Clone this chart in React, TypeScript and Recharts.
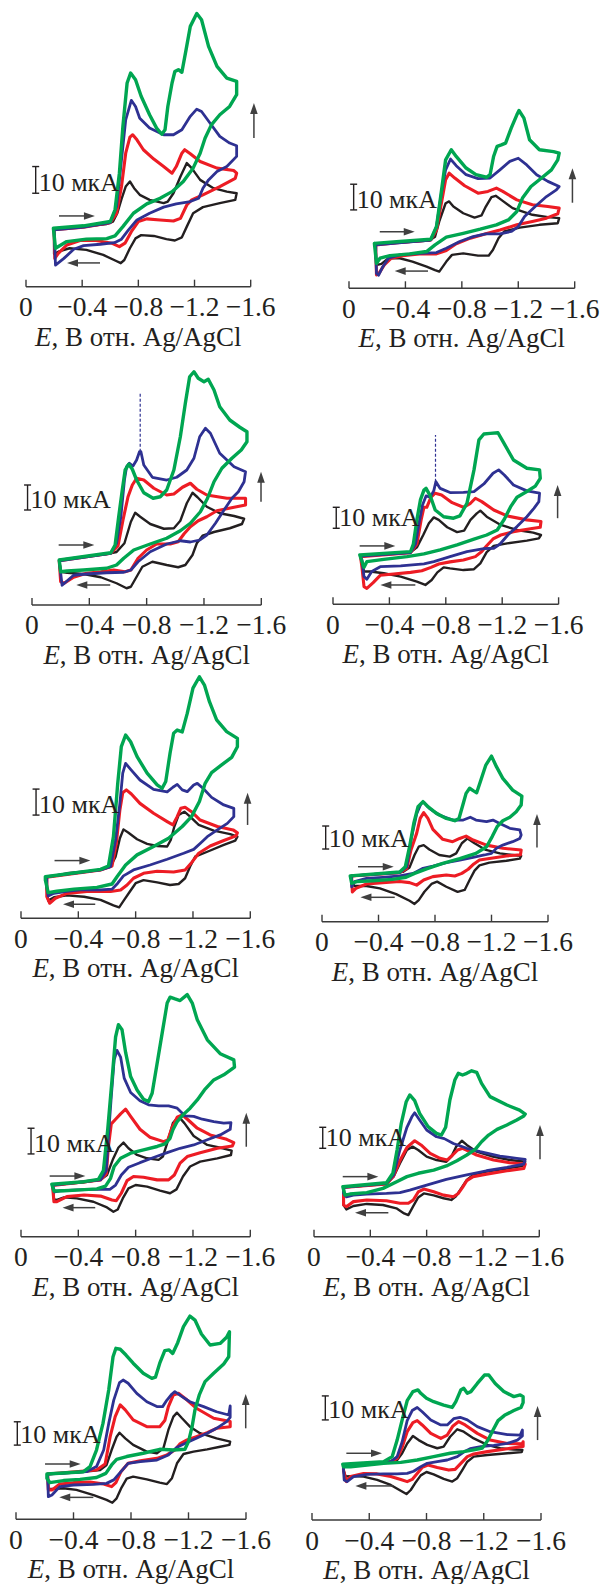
// Cyclic voltammograms, 10 panels (5 rows x 2 columns)
import React from 'react';
import { LineChart, Line, XAxis, YAxis, ReferenceLine } from 'recharts';

type Pt = [number, number]; // [E, V ; I, мкА]

// ---------- panel 1 ----------
const p1Black: Pt[] = [[-0.2,21.5],[-0.41,22.5],[-0.575,23.5],[-0.62,24.4],[-0.65,27.5],[-0.68,32.8],[-0.71,37.5],[-0.74,39.4],[-0.77,36.9],[-0.81,34.4],[-0.88,32.5],[-0.98,31.3],[-1.01,31.9],[-1.05,35],[-1.1,41.3],[-1.145,46.3],[-1.18,44.4],[-1.24,40],[-1.335,36.9],[-1.43,35.6],[-1.5,35],
  [-1.49,32.5],[-1.38,31.3],[-1.26,29.8],[-1.19,27.5],[-1.145,22.5],[-1.11,18.5],[-1.06,17.3],[-1.0,17.8],[-0.91,19],[-0.82,19.3],[-0.78,18.1],[-0.74,14.4],[-0.7,10],[-0.675,8.8],[-0.635,9.8],[-0.55,11.9],[-0.43,13.8],[-0.31,14.4],[-0.23,13.1],[-0.2,12.3]];
const p1Red: Pt[] = [[-0.2,21.3],[-0.41,22.3],[-0.6,24],[-0.645,27.5],[-0.68,37.5],[-0.71,50],[-0.74,56],[-0.76,56.9],[-0.79,55],[-0.836,51.3],[-0.91,47.8],[-0.98,45],[-1.04,42.5],[-1.07,45],[-1.11,50],[-1.13,51.3],[-1.17,49.8],[-1.24,46.9],[-1.36,44.4],[-1.48,43.5],[-1.5,42.5],
  [-1.49,40.6],[-1.38,37.5],[-1.26,34.4],[-1.18,32.5],[-1.145,30.6],[-1.1,25.6],[-1.05,24.6],[-0.955,25],[-0.86,25.4],[-0.8,24.4],[-0.75,20.6],[-0.705,16.3],[-0.665,15],[-0.61,16.3],[-0.5,17.3],[-0.385,17.3],[-0.29,15.6],[-0.23,12.5],[-0.205,10.6]];
const p1Blue: Pt[] = [[-0.2,21.3],[-0.41,22.3],[-0.6,24],[-0.645,30],[-0.68,47.5],[-0.71,62.5],[-0.75,69.8],[-0.78,67.5],[-0.81,63.1],[-0.88,59.4],[-0.98,56.9],[-1.05,56.9],[-1.11,58.8],[-1.17,63.8],[-1.216,66.5],[-1.25,65.6],[-1.31,61.3],[-1.38,56.3],[-1.45,53.8],[-1.5,52.8],
  [-1.5,48.8],[-1.43,45],[-1.36,43.1],[-1.3,40],[-1.26,36.9],[-1.23,33.1],[-1.17,31.9],[-1.07,31],[-0.98,29.8],[-0.88,27.5],[-0.79,25],[-0.73,21.3],[-0.68,17.8],[-0.63,16.5],[-0.53,15.9],[-0.41,15.4],[-0.34,14],[-0.27,10.6],[-0.21,8.1]];
const p1Green: Pt[] = [[-0.195,21.9],[-0.41,22.8],[-0.6,24.4],[-0.634,28.8],[-0.665,42.5],[-0.69,60],[-0.72,76.3],[-0.745,80],[-0.78,77.5],[-0.82,71.3],[-0.88,64.4],[-0.93,59.4],[-0.967,57.1],[-0.99,58.8],[-1.01,67.5],[-1.04,76.3],[-1.06,80.6],[-1.085,81.3],[-1.11,80.3],[-1.14,88.8],[-1.17,97.5],[-1.216,102.3],[-1.25,100],[-1.3,90],[-1.36,82.5],[-1.43,78.1],[-1.5,76.9],
  [-1.5,71.9],[-1.45,67.5],[-1.38,64.4],[-1.32,60.6],[-1.275,55.6],[-1.24,50],[-1.19,44.4],[-1.12,39.4],[-1.04,35.6],[-0.955,33.1],[-0.86,31],[-0.765,27.5],[-0.69,22.5],[-0.634,19],[-0.575,18],[-0.43,17.8],[-0.29,16.9],[-0.21,14.4]];

// ---------- panel 2 ----------
const p2Black: Pt[] = [[-0.19,17.1],[-0.36,17.8],[-0.57,18.6],[-0.61,20.1],[-0.64,26],[-0.685,33.1],[-0.71,33.8],[-0.74,31.8],[-0.81,29.2],[-0.89,27.5],[-0.94,28.4],[-0.97,31.8],[-1.01,35.5],[-1.04,36],[-1.08,34.4],[-1.16,31.2],[-1.3,28.6],[-1.41,27.7],[-1.49,27.3],
  [-1.48,25.3],[-1.35,24.7],[-1.21,23.6],[-1.1,22.1],[-1.06,19.5],[-1.02,14.9],[-0.99,12.7],[-0.915,12.7],[-0.81,13.6],[-0.73,13],[-0.69,10.4],[-0.64,6.5],[-0.61,7.1],[-0.55,8.4],[-0.45,10.4],[-0.36,11.7],[-0.28,11.7],[-0.23,9.5],[-0.2,9.1],[-0.19,11.7]];
const p2Red: Pt[] = [[-0.19,16.9],[-0.36,17.8],[-0.58,18.8],[-0.62,22.7],[-0.655,33.1],[-0.685,42.2],[-0.71,44.8],[-0.75,42.9],[-0.82,39.9],[-0.915,37],[-0.985,37.7],[-1.045,39],[-1.09,37.7],[-1.19,34.4],[-1.3,32.5],[-1.41,31.8],[-1.49,31.2],
  [-1.48,29],[-1.4,27.3],[-1.3,26],[-1.19,24.7],[-1.07,22.7],[-0.97,21.2],[-0.86,19.5],[-0.76,17.3],[-0.69,14.7],[-0.62,13.4],[-0.5,13.4],[-0.38,12.7],[-0.3,11.7],[-0.25,9.1],[-0.21,5.6],[-0.195,5.2],[-0.19,14]];
const p2Blue: Pt[] = [[-0.19,16.9],[-0.58,18.8],[-0.62,24],[-0.655,37],[-0.685,46.1],[-0.72,50.3],[-0.76,47.7],[-0.83,44.2],[-0.915,42.7],[-1.0,42.9],[-1.07,46.1],[-1.14,49.4],[-1.2,50.6],[-1.26,48],[-1.33,44.2],[-1.41,41.6],[-1.49,39.6],
  [-1.47,38.3],[-1.4,35.7],[-1.32,31.8],[-1.245,27.9],[-1.2,24],[-1.15,22.1],[-1.07,21.2],[-0.97,21.2],[-0.88,20.1],[-0.785,18.2],[-0.69,15.6],[-0.62,13.9],[-0.5,13.6],[-0.36,13],[-0.28,11.7],[-0.24,8.4],[-0.21,5.1],[-0.195,5.8],[-0.19,14]];
const p2Green: Pt[] = [[-0.18,17.5],[-0.36,18.2],[-0.58,19.1],[-0.62,24],[-0.65,35.7],[-0.685,50],[-0.725,53.9],[-0.76,51.3],[-0.83,46.8],[-0.9,44.2],[-0.975,43.2],[-1.0,44.2],[-1.025,51.3],[-1.05,55.2],[-1.08,55.8],[-1.11,56.5],[-1.15,62.3],[-1.19,67.5],[-1.205,69.2],[-1.24,66.2],[-1.28,57.8],[-1.35,53.9],[-1.45,53.2],[-1.49,52.6],
  [-1.48,50],[-1.435,46.1],[-1.365,42.9],[-1.29,39.6],[-1.23,35.1],[-1.19,29.9],[-1.13,26.6],[-1.045,24.7],[-0.93,23],[-0.81,21.4],[-0.69,19.9],[-0.61,16.9],[-0.55,14.3],[-0.43,13.4],[-0.29,12.7],[-0.22,11.7],[-0.195,9.7]];

// ---------- panel 3 ----------
const p3Black: Pt[] = [[-0.19,18],[-0.36,19.3],[-0.52,20.4],[-0.59,21.2],[-0.645,24.7],[-0.69,33.3],[-0.72,36.9],[-0.755,35.3],[-0.825,32.4],[-0.92,30.5],[-0.99,30.7],[-1.035,33.7],[-1.08,40.7],[-1.12,44.9],[-1.155,43.1],[-1.22,39.3],[-1.31,36.7],[-1.41,35.6],[-1.48,34.5],
  [-1.465,32.4],[-1.38,30.7],[-1.27,29.2],[-1.19,27.7],[-1.15,24.7],[-1.12,20],[-1.07,16],[-1.02,15.1],[-0.94,16],[-0.84,17.3],[-0.77,15.3],[-0.73,11.3],[-0.69,7.3],[-0.66,6.7],[-0.59,8.7],[-0.48,11.1],[-0.36,12.4],[-0.245,12.9],[-0.2,13.3]];
const p3Red: Pt[] = [[-0.19,17.7],[-0.55,20.7],[-0.6,23.6],[-0.635,34],[-0.67,43.3],[-0.7,48],[-0.73,50.7],[-0.78,50],[-0.85,46.7],[-0.94,44],[-0.99,44.4],[-1.05,47.1],[-1.105,48.7],[-1.15,46.3],[-1.22,44],[-1.36,42.7],[-1.49,42.7],
  [-1.49,40],[-1.41,39.1],[-1.29,37.7],[-1.22,35.3],[-1.16,33.7],[-1.105,31.3],[-1.06,28.4],[-1.02,25.3],[-0.965,24.4],[-0.87,24.4],[-0.8,22],[-0.74,18.7],[-0.69,14],[-0.65,13.3],[-0.57,14],[-0.48,13.3],[-0.38,12.7],[-0.29,11.1],[-0.225,8.7],[-0.2,9.3]];
const p3Blue: Pt[] = [[-0.19,17.7],[-0.55,20.7],[-0.59,24.7],[-0.62,35.3],[-0.645,50],[-0.66,55.3],[-0.68,56.7],[-0.705,55.6],[-0.73,58],[-0.75,61.3],[-0.76,61.3],[-0.78,56],[-0.84,51.1],[-0.94,50],[-1.01,51.1],[-1.08,54],[-1.13,58.7],[-1.17,67.3],[-1.21,70.7],[-1.245,68.7],[-1.31,60.7],[-1.41,55.3],[-1.49,53.3],
  [-1.48,49.3],[-1.44,45.3],[-1.395,42.7],[-1.34,38],[-1.28,32.7],[-1.22,28],[-1.17,26],[-1.105,25.2],[-1.035,25.7],[-0.94,24.4],[-0.825,21.3],[-0.74,17.3],[-0.69,14],[-0.64,13.1],[-0.52,12.9],[-0.38,12.4],[-0.29,11.9],[-0.23,8.9],[-0.21,7.9]];
const p3BlueSpike: Pt[] = [[-0.755,61.3],[-0.755,85.3]];
const p3Green: Pt[] = [[-0.19,18],[-0.55,20.9],[-0.58,24],[-0.605,35.3],[-0.63,46],[-0.65,54],[-0.675,56.3],[-0.7,54.3],[-0.73,50],[-0.78,44.9],[-0.845,42.7],[-0.895,43.3],[-0.94,46],[-0.99,54],[-1.035,67.3],[-1.07,80.7],[-1.1,91.3],[-1.13,93.3],[-1.16,90.7],[-1.2,89.3],[-1.23,90.3],[-1.27,86],[-1.31,79.3],[-1.38,74],[-1.45,71.1],[-1.5,69.3],
  [-1.5,65.3],[-1.46,62],[-1.395,58.7],[-1.325,54.7],[-1.27,49.3],[-1.225,42.7],[-1.175,37.3],[-1.105,32.7],[-1.035,29.7],[-0.94,26.7],[-0.825,24.4],[-0.71,22],[-0.64,18.7],[-0.59,16],[-0.52,14.7],[-0.36,14],[-0.245,13.6],[-0.2,13.3]];

// ---------- panel 4 ----------
const p4Black: Pt[] = [[-0.195,23],[-0.36,24],[-0.55,24.8],[-0.595,27.1],[-0.64,33],[-0.68,38.6],[-0.715,41.4],[-0.75,40.2],[-0.81,36.7],[-0.88,34.4],[-0.93,35.1],[-0.975,40.2],[-1.02,43.3],[-1.045,44.6],[-1.09,41.7],[-1.19,37.8],[-1.305,35.4],[-1.42,34.1],[-1.475,33],
  [-1.46,31.4],[-1.375,30.3],[-1.235,29],[-1.14,27.8],[-1.09,24.8],[-1.045,19.5],[-1.0,16.7],[-0.925,16.3],[-0.83,17.1],[-0.785,17.6],[-0.74,15.2],[-0.7,11.6],[-0.655,9.2],[-0.595,10.8],[-0.48,13.2],[-0.36,14.8],[-0.265,15.6],[-0.22,15.6],[-0.205,20]];
const p4Red: Pt[] = [[-0.195,22.7],[-0.55,24.6],[-0.595,28.7],[-0.625,40.2],[-0.645,46.2],[-0.665,46.2],[-0.695,51],[-0.725,52.9],[-0.77,52.1],[-0.845,48.4],[-0.925,46.2],[-0.975,48.1],[-1.01,50.5],[-1.055,48.9],[-1.14,44.9],[-1.235,42.1],[-1.375,40.2],[-1.475,39.4],
  [-1.47,36.7],[-1.4,36],[-1.28,34.6],[-1.19,33],[-1.135,31.1],[-1.09,27.9],[-1.055,25.1],[-1.01,22.7],[-0.925,21.1],[-0.83,20.2],[-0.75,19.2],[-0.695,17.6],[-0.63,16],[-0.55,15.2],[-0.43,14.4],[-0.335,13.8],[-0.285,10.3],[-0.24,7.6],[-0.22,8.4],[-0.205,17.9]];
const p4Blue: Pt[] = [[-0.195,23],[-0.55,24.6],[-0.585,28.7],[-0.61,38.6],[-0.635,47.3],[-0.66,51.6],[-0.69,51],[-0.715,54.1],[-0.73,58.4],[-0.76,55.2],[-0.83,53.2],[-0.925,53.3],[-1.0,53.7],[-1.07,57.3],[-1.135,62.4],[-1.175,64],[-1.215,61.6],[-1.28,56.8],[-1.375,54],[-1.465,52.9],
  [-1.46,48.9],[-1.425,45.7],[-1.375,41.7],[-1.305,37],[-1.24,33],[-1.185,28.7],[-1.14,26.7],[-1.07,26.5],[-0.95,25.1],[-0.83,22.7],[-0.715,20.3],[-0.645,19.2],[-0.48,18.3],[-0.335,17.9],[-0.275,15.6],[-0.24,11.9],[-0.22,13.2],[-0.205,21.1]];
const p4BlueSpike: Pt[] = [[-0.727,58.4],[-0.727,80.6]];
const p4Green: Pt[] = [[-0.19,23.5],[-0.55,25.1],[-0.57,28.7],[-0.595,40.2],[-0.62,49.7],[-0.645,54.4],[-0.66,55.2],[-0.69,51.6],[-0.725,44.9],[-0.785,41.7],[-0.855,41],[-0.9,42.1],[-0.95,48.1],[-1.0,64],[-1.035,78.3],[-1.07,81.1],[-1.115,81.4],[-1.17,81.7],[-1.21,77],[-1.28,68.7],[-1.375,64.8],[-1.465,64],
  [-1.47,60],[-1.435,56.3],[-1.375,53.7],[-1.305,51],[-1.26,46.5],[-1.215,40.5],[-1.165,35.4],[-1.09,33],[-1.0,31],[-0.88,28.3],[-0.76,25.9],[-0.645,24],[-0.525,22.7],[-0.36,21.4],[-0.24,20.3],[-0.22,17.6]];

// ---------- panel 5 ----------
const p5Black: Pt[] = [[-0.18,15.8],[-0.32,17.3],[-0.555,18.6],[-0.625,19.9],[-0.66,23.7],[-0.69,30.8],[-0.715,34.2],[-0.75,32.9],[-0.81,30.4],[-0.88,28.6],[-0.95,27.8],[-1.02,27.6],[-1.045,30.1],[-1.07,35.3],[-1.1,39.7],[-1.14,41],[-1.18,39.1],[-1.24,35.9],[-1.345,33.7],[-1.46,32.4],[-1.51,31.4],
  [-1.495,29.9],[-1.415,28.2],[-1.3,25.6],[-1.215,23.7],[-1.18,19.9],[-1.145,15.4],[-1.1,13.2],[-1.04,12.8],[-0.95,13.8],[-0.855,14.7],[-0.8,13.5],[-0.76,10.3],[-0.72,7.1],[-0.685,4.2],[-0.645,5],[-0.555,7.1],[-0.44,8.3],[-0.32,8.8],[-0.23,8.1],[-0.19,6.8],[-0.18,10.9]];
const p5Red: Pt[] = [[-0.18,15.8],[-0.555,18.6],[-0.635,20.1],[-0.665,28.8],[-0.69,41.7],[-0.71,48.3],[-0.735,49.4],[-0.77,47.8],[-0.83,44.2],[-0.925,40.4],[-1.02,37.2],[-1.06,35.9],[-1.09,39.1],[-1.115,42.3],[-1.145,42.7],[-1.19,41],[-1.25,37.8],[-1.37,35.3],[-1.48,34],[-1.51,32.9],
  [-1.5,31.7],[-1.415,29.9],[-1.32,27.8],[-1.24,25],[-1.19,21.4],[-1.145,18.6],[-1.065,17.8],[-0.95,18.1],[-0.855,17.3],[-0.785,15.4],[-0.74,12.8],[-0.695,10.9],[-0.625,10.3],[-0.46,10.3],[-0.32,9.6],[-0.24,7.7],[-0.2,5.8],[-0.18,8.3]];
const p5Blue: Pt[] = [[-0.18,16],[-0.555,18.6],[-0.625,19.9],[-0.66,30.1],[-0.69,44.2],[-0.71,55.8],[-0.73,59.6],[-0.765,57.3],[-0.83,53.2],[-0.925,49.6],[-1.02,48.6],[-1.06,50.4],[-1.09,51.5],[-1.125,49.4],[-1.16,48.7],[-1.205,51.3],[-1.23,51.9],[-1.27,50],[-1.33,46.5],[-1.415,43.6],[-1.485,42.3],
  [-1.485,39.1],[-1.44,36.5],[-1.37,34],[-1.3,31.4],[-1.25,28.8],[-1.205,26.5],[-1.135,25],[-1.02,22.7],[-0.9,20.5],[-0.785,18.6],[-0.715,16.3],[-0.675,13.5],[-0.635,11.2],[-0.555,10.9],[-0.415,10.9],[-0.32,10.4],[-0.23,9.6],[-0.19,8.6],[-0.18,12.2]];
const p5Green: Pt[] = [[-0.17,16],[-0.555,18.8],[-0.61,20.1],[-0.645,31.4],[-0.675,51.9],[-0.7,66],[-0.73,70.5],[-0.765,67.9],[-0.81,62.2],[-0.88,55.8],[-0.95,51.3],[-0.985,50],[-1.01,52.6],[-1.04,63.5],[-1.065,71.2],[-1.09,72.4],[-1.125,71.7],[-1.16,78.8],[-1.2,88.5],[-1.245,92.9],[-1.28,89.7],[-1.315,83.3],[-1.365,76.3],[-1.435,71.8],[-1.51,69.2],
  [-1.51,66],[-1.47,61.9],[-1.4,59],[-1.33,56],[-1.285,51.9],[-1.245,44.9],[-1.19,39.1],[-1.125,35.3],[-1.03,30.8],[-0.925,27.6],[-0.81,24.4],[-0.73,20.5],[-0.67,16],[-0.635,13.2],[-0.53,11.9],[-0.37,11.2],[-0.25,10.4],[-0.19,9.9],[-0.17,14.7]];

// ---------- panel 6 ----------
const p6Black: Pt[] = [[-0.21,19.9],[-0.43,21],[-0.575,21.7],[-0.62,23.6],[-0.655,29],[-0.685,32.6],[-0.72,33.3],[-0.76,31.4],[-0.83,29],[-0.905,28.3],[-0.95,29.7],[-0.99,34.1],[-1.03,36.2],[-1.08,34.1],[-1.16,31.2],[-1.26,29.7],[-1.35,29],[-1.41,28.6],
  [-1.4,27.4],[-1.305,26.5],[-1.185,25.7],[-1.115,24.5],[-1.08,22.2],[-1.045,18.1],[-1.01,13.8],[-0.96,13],[-0.88,15.2],[-0.815,17.4],[-0.775,16.4],[-0.725,13],[-0.685,9.4],[-0.655,7.7],[-0.62,9.1],[-0.525,12],[-0.41,14.5],[-0.315,15.5],[-0.23,15.5],[-0.21,17.4]];
const p6Red: Pt[] = [[-0.21,19.9],[-0.55,21.3],[-0.6,23.2],[-0.63,31.2],[-0.67,38.4],[-0.695,44.9],[-0.72,47.4],[-0.75,44.9],[-0.785,40.1],[-0.855,35.8],[-0.925,34.8],[-0.975,36.2],[-1.02,37.2],[-1.07,35.5],[-1.165,33.3],[-1.28,31.9],[-1.41,31.2],
  [-1.405,29.1],[-1.305,28.6],[-1.185,27.5],[-1.115,26.8],[-1.075,25.1],[-1.035,22.8],[-0.99,21],[-0.94,19.9],[-0.88,20.3],[-0.785,19.6],[-0.72,18.1],[-0.67,15.9],[-0.62,17],[-0.55,17.5],[-0.43,17],[-0.315,16.4],[-0.24,14.5],[-0.215,13],[-0.21,18.1]];
const p6Blue: Pt[] = [[-0.21,19.9],[-0.55,21.3],[-0.6,23.9],[-0.63,35.5],[-0.67,46.8],[-0.7,51.2],[-0.72,52],[-0.76,49.3],[-0.83,46.4],[-0.925,44.2],[-1.0,44.2],[-1.05,45.4],[-1.09,44.2],[-1.165,43.5],[-1.21,44.2],[-1.255,42.8],[-1.33,40.6],[-1.4,39.9],[-1.41,37.7],
  [-1.4,36.2],[-1.35,34.8],[-1.28,33.3],[-1.235,31.9],[-1.2,29.7],[-1.15,29],[-1.07,28],[-0.975,26.8],[-0.88,25.7],[-0.785,24.2],[-0.715,23.2],[-0.645,21],[-0.55,19.9],[-0.43,19.3],[-0.315,18.8],[-0.23,17.4],[-0.21,15.2]];
const p6Green: Pt[] = [[-0.2,19.9],[-0.55,21.6],[-0.59,23.9],[-0.62,32.6],[-0.65,42.8],[-0.68,50],[-0.715,52.2],[-0.75,50],[-0.81,47.1],[-0.88,44.9],[-0.94,43.9],[-0.97,44.9],[-1.0,51.4],[-1.02,55.8],[-1.045,58],[-1.07,57],[-1.095,56.1],[-1.125,61.6],[-1.16,68.1],[-1.2,72],[-1.235,67.4],[-1.28,62.3],[-1.35,57.2],[-1.415,54.6],
  [-1.41,50.7],[-1.375,47.8],[-1.33,45.4],[-1.28,43.9],[-1.24,41.3],[-1.205,37],[-1.165,32.6],[-1.09,29.7],[-0.975,27.4],[-0.855,25.4],[-0.74,23],[-0.655,21],[-0.595,19.3],[-0.5,18.4],[-0.36,17.8],[-0.245,17.4],[-0.21,16.7]];

// ---------- panel 7 ----------
const p7Black: Pt[] = [[-0.22,20.1],[-0.44,21.2],[-0.555,22.1],[-0.6,24],[-0.64,29.9],[-0.68,34.7],[-0.715,36.6],[-0.75,34.4],[-0.81,31.8],[-0.88,30.5],[-0.96,29.9],[-0.99,31.2],[-1.02,36.4],[-1.06,44.2],[-1.1,46.8],[-1.14,44.2],[-1.205,39.2],[-1.3,35.7],[-1.415,34.3],[-1.47,33.5],
  [-1.465,31.8],[-1.37,30.5],[-1.25,29.2],[-1.18,27.3],[-1.13,23.4],[-1.085,18.4],[-1.04,16.9],[-0.97,17.9],[-0.88,19.5],[-0.8,20.1],[-0.75,18.8],[-0.71,14.9],[-0.675,10.6],[-0.645,9.7],[-0.6,11.4],[-0.505,13.6],[-0.39,14.9],[-0.3,15.3],[-0.25,14.3],[-0.23,14.5]];
const p7Red: Pt[] = [[-0.22,19.9],[-0.555,22.1],[-0.595,24.4],[-0.61,35.1],[-0.63,43.9],[-0.66,45.7],[-0.695,47.8],[-0.73,49.6],[-0.765,46.8],[-0.83,41.8],[-0.9,38.7],[-0.995,37],[-1.025,37.7],[-1.055,42.6],[-1.09,46.5],[-1.125,47.4],[-1.165,45.5],[-1.23,42.2],[-1.32,39.6],[-1.435,37.9],[-1.485,36.6],
  [-1.475,35.3],[-1.37,34.4],[-1.25,32.7],[-1.16,31.2],[-1.11,28.6],[-1.07,24],[-1.03,22.1],[-0.95,22.1],[-0.855,23.1],[-0.785,23.4],[-0.74,21.8],[-0.7,16.9],[-0.665,14],[-0.635,14.3],[-0.555,15.8],[-0.44,16.2],[-0.32,15.6],[-0.25,13.6],[-0.23,13.6]];
const p7Blue: Pt[] = [[-0.22,20.1],[-0.555,22.1],[-0.595,25.7],[-0.61,39],[-0.63,54.5],[-0.65,68.8],[-0.67,72.5],[-0.695,69.9],[-0.72,61.7],[-0.765,56.1],[-0.83,52.9],[-0.89,51.3],[-0.96,50.9],[-1.03,50.9],[-1.09,50],[-1.145,47],[-1.205,46.8],[-1.265,45.7],[-1.345,44.8],[-1.415,44.2],[-1.465,44.4],
  [-1.46,41.8],[-1.39,39.6],[-1.3,37.7],[-1.205,35.7],[-1.11,34.4],[-1.02,32.7],[-0.925,30.8],[-0.83,28.8],[-0.75,27],[-0.7,24],[-0.66,20.1],[-0.62,18.4],[-0.505,18.4],[-0.39,18.2],[-0.275,17.8],[-0.235,17.4]];
const p7Green: Pt[] = [[-0.215,20.4],[-0.44,21.4],[-0.54,22.3],[-0.575,25.7],[-0.605,41.6],[-0.635,61],[-0.66,77.7],[-0.68,82.5],[-0.705,80.5],[-0.73,71.7],[-0.765,62.3],[-0.81,57.1],[-0.855,53.5],[-0.89,52.6],[-0.915,55.8],[-0.95,67.5],[-0.985,79.2],[-1.02,90.9],[-1.04,93.2],[-1.075,92.5],[-1.11,91.9],[-1.16,94.2],[-1.195,90.9],[-1.23,84.4],[-1.3,76.6],[-1.39,71.2],[-1.485,68.8],
  [-1.49,66],[-1.415,63],[-1.345,61],[-1.28,57.1],[-1.23,53.2],[-1.18,50],[-1.13,47.4],[-1.09,44.8],[-1.06,41.6],[-1.04,38.3],[-1.005,36.1],[-0.95,35.1],[-0.855,33.8],[-0.765,32.5],[-0.695,30.5],[-0.65,27.3],[-0.625,22.7],[-0.59,19.7],[-0.53,18.6],[-0.415,18.2],[-0.3,17.9],[-0.23,17.8]];

// ---------- panel 8 ----------
const p8Black: Pt[] = [[-0.21,23.5],[-0.375,24.3],[-0.515,25.1],[-0.565,28.6],[-0.61,34.9],[-0.66,41.3],[-0.7,42.9],[-0.74,41.3],[-0.8,38.1],[-0.87,36.5],[-0.94,35.7],[-0.975,38.1],[-1.01,42.9],[-1.05,45.7],[-1.085,43.7],[-1.155,40.5],[-1.27,38.1],[-1.39,36.5],[-1.5,35.7],
  [-1.49,33.7],[-1.37,32.5],[-1.225,31],[-1.13,29.4],[-1.085,27],[-1.05,23.5],[-1.01,19.4],[-0.975,17.5],[-0.92,18.3],[-0.85,19.7],[-0.78,20.6],[-0.74,18.7],[-0.705,14.6],[-0.67,10.3],[-0.64,11.1],[-0.585,13.5],[-0.49,15.1],[-0.375,15.6],[-0.28,14.6],[-0.23,13],[-0.21,15.1]];
const p8Red: Pt[] = [[-0.21,23.5],[-0.515,25.1],[-0.565,28.9],[-0.61,36.2],[-0.66,42.5],[-0.715,45.7],[-0.76,43.7],[-0.825,39.7],[-0.895,37.3],[-0.945,36.5],[-0.985,38.9],[-1.02,41.3],[-1.055,42.1],[-1.09,41],[-1.155,38.9],[-1.275,36.5],[-1.39,35.2],[-1.5,34.6],
  [-1.49,32.5],[-1.37,31.4],[-1.225,29.8],[-1.13,28.6],[-1.085,26.7],[-1.055,23.5],[-1.025,20.6],[-0.99,19],[-0.92,19.8],[-0.85,21.4],[-0.78,22.7],[-0.74,21.3],[-0.705,17.5],[-0.67,15.9],[-0.61,15.9],[-0.515,17.1],[-0.375,17.5],[-0.28,16.7],[-0.23,14.3],[-0.21,15.1]];
const p8Blue: Pt[] = [[-0.21,23.5],[-0.515,25.4],[-0.565,29.4],[-0.61,41.3],[-0.66,52.1],[-0.695,57.1],[-0.715,59],[-0.75,55.6],[-0.8,50.8],[-0.87,47.6],[-0.925,46.7],[-0.99,44.4],[-1.085,42.1],[-1.18,40.5],[-1.32,38.4],[-1.44,37.3],[-1.5,36.8],
  [-1.49,34.6],[-1.37,33],[-1.225,31.4],[-1.085,29.4],[-0.94,27.3],[-0.8,24.6],[-0.68,22.2],[-0.61,21],[-0.515,20.6],[-0.375,20.3],[-0.28,19.8],[-0.23,19],[-0.21,20.6]];
const p8Green: Pt[] = [[-0.205,23.8],[-0.515,25.7],[-0.56,30.2],[-0.59,41.3],[-0.62,54],[-0.655,64.3],[-0.68,67.5],[-0.715,64.8],[-0.75,58.7],[-0.81,52.4],[-0.87,49.2],[-0.905,48.4],[-0.935,52.1],[-0.965,65.1],[-1.0,74.6],[-1.025,77.8],[-1.055,77],[-1.085,77.8],[-1.12,79],[-1.155,78.3],[-1.19,73],[-1.25,66.7],[-1.37,62.7],[-1.46,60.3],[-1.5,58.4],
  [-1.49,57.5],[-1.44,55.6],[-1.37,53.2],[-1.3,51.1],[-1.24,48.4],[-1.19,45.2],[-1.145,41.6],[-1.085,38.9],[-1.015,36.2],[-0.94,33.7],[-0.85,31.7],[-0.74,30.2],[-0.66,28.6],[-0.587,26.2],[-0.49,23],[-0.375,21],[-0.255,20.3],[-0.22,19.8]];

// ---------- panel 9 ----------
const p9Black: Pt[] = [[-0.22,19.4],[-0.42,20],[-0.585,21.1],[-0.63,23.3],[-0.665,29.7],[-0.7,35.4],[-0.72,37.1],[-0.76,34.7],[-0.815,31.9],[-0.91,29],[-0.98,28.3],[-1.025,30.4],[-1.06,38.3],[-1.095,44],[-1.12,45.7],[-1.155,43.3],[-1.21,39.7],[-1.28,36.9],[-1.395,34.7],[-1.49,33.3],
  [-1.485,31.9],[-1.42,31.1],[-1.33,30],[-1.235,29],[-1.165,28],[-1.12,24],[-1.085,17.6],[-1.05,15.1],[-1.0,15.7],[-0.91,17.1],[-0.815,18.3],[-0.77,17.4],[-0.735,13.7],[-0.7,9],[-0.67,7.1],[-0.63,8.3],[-0.54,10.4],[-0.42,12.6],[-0.33,13.3],[-0.26,13],[-0.225,13]];
const p9Red: Pt[] = [[-0.22,19.4],[-0.56,21.1],[-0.62,23.7],[-0.655,35.4],[-0.69,44],[-0.725,49],[-0.76,46.9],[-0.815,42.6],[-0.91,39.7],[-1.0,39.7],[-1.035,42.3],[-1.06,48.3],[-1.095,53.3],[-1.13,54],[-1.19,51.1],[-1.255,47.6],[-1.375,43.3],[-1.49,41.9],
  [-1.49,39.7],[-1.395,39],[-1.33,37.1],[-1.255,35.4],[-1.19,34],[-1.14,32.3],[-1.105,29.7],[-1.05,27.6],[-0.98,26.1],[-0.865,25.1],[-0.78,24],[-0.73,20.4],[-0.695,15.7],[-0.665,14],[-0.61,15.1],[-0.515,16],[-0.4,15.7],[-0.305,15.1],[-0.25,12.6],[-0.225,12.6]];
const p9Blue: Pt[] = [[-0.22,19.4],[-0.49,20.4],[-0.56,22.6],[-0.61,29.7],[-0.645,41.1],[-0.68,51.1],[-0.72,58.6],[-0.745,59.7],[-0.78,58.3],[-0.84,54],[-0.91,50.4],[-0.98,48.3],[-1.02,48.3],[-1.05,51.1],[-1.085,53.7],[-1.105,54.7],[-1.155,52.6],[-1.21,50.4],[-1.305,48.3],[-1.395,46.1],[-1.48,44.7],[-1.49,48.6],
  [-1.49,43.7],[-1.465,41.9],[-1.395,39],[-1.33,36.9],[-1.255,34.7],[-1.19,32.9],[-1.12,30.9],[-1.06,27.6],[-0.98,25.4],[-0.865,24.7],[-0.78,24],[-0.73,20.4],[-0.68,16.9],[-0.63,15.4],[-0.54,15],[-0.4,14.7],[-0.305,14],[-0.25,10.4],[-0.225,9.7]];
const p9Green: Pt[] = [[-0.215,19.4],[-0.47,20.4],[-0.515,22.6],[-0.56,29.7],[-0.605,41.1],[-0.645,55.4],[-0.675,69.7],[-0.695,73.3],[-0.725,72.9],[-0.765,70.4],[-0.815,66.9],[-0.885,62.6],[-0.945,60.4],[-0.97,60.9],[-1.0,66.9],[-1.035,72.3],[-1.065,72.6],[-1.09,71.1],[-1.125,75.7],[-1.165,82.6],[-1.21,87.1],[-1.245,85.4],[-1.29,79.4],[-1.35,74.7],[-1.42,75.4],[-1.465,78],[-1.485,80.4],
  [-1.48,69.7],[-1.445,66.6],[-1.375,62.6],[-1.315,59],[-1.275,53.3],[-1.245,46.9],[-1.225,39.7],[-1.2,33.3],[-1.175,30],[-1.095,29.7],[-1.0,30],[-0.885,28.3],[-0.77,26.9],[-0.7,25.7],[-0.665,23.3],[-0.625,19.7],[-0.56,17.9],[-0.445,17.1],[-0.33,16.6],[-0.235,15.7],[-0.215,17.6]];

// ---------- panel 10 ----------
const p10Black: Pt[] = [[-0.22,22.5],[-0.5,23.9],[-0.595,25],[-0.63,27.8],[-0.665,31.9],[-0.705,35],[-0.745,33.3],[-0.805,31.3],[-0.875,29.9],[-0.92,30.6],[-0.965,34.7],[-1.015,37.8],[-1.06,36.8],[-1.13,34],[-1.225,31.3],[-1.315,29.9],[-1.41,29.4],[-1.47,29.2],
  [-1.465,28.3],[-1.365,27.8],[-1.225,27.1],[-1.13,26.4],[-1.085,24.3],[-1.05,20.8],[-1.015,17.4],[-0.98,16],[-0.92,17.1],[-0.85,19],[-0.8,20],[-0.76,18.6],[-0.72,15.3],[-0.69,12.5],[-0.66,10.8],[-0.62,12.2],[-0.55,14.6],[-0.455,16.7],[-0.36,18.1],[-0.27,18.3],[-0.235,18.1],[-0.22,20.8]];
const p10Red: Pt[] = [[-0.22,22.5],[-0.55,24.3],[-0.595,25.7],[-0.63,30.3],[-0.665,36.8],[-0.705,40.6],[-0.735,41.4],[-0.77,39.6],[-0.83,36.1],[-0.9,34],[-0.945,35.4],[-0.985,39.2],[-1.025,41],[-1.07,39.6],[-1.155,36.1],[-1.245,33.3],[-1.365,31.9],[-1.47,31.7],[-1.475,32.6],
  [-1.475,30.6],[-1.365,29.7],[-1.225,28.5],[-1.13,27.5],[-1.085,26.4],[-1.04,23.6],[-1.0,21.1],[-0.955,20.8],[-0.875,21.9],[-0.81,22.9],[-0.77,21.9],[-0.735,19.4],[-0.7,16.9],[-0.665,16],[-0.62,16.9],[-0.55,18.1],[-0.455,19.2],[-0.36,19.4],[-0.27,18.1],[-0.24,16],[-0.22,20.8]];
const p10Blue: Pt[] = [[-0.22,22.5],[-0.55,24.3],[-0.595,26.4],[-0.63,32.6],[-0.665,41.4],[-0.7,45.6],[-0.735,46.9],[-0.77,45.1],[-0.83,41.7],[-0.9,39.6],[-0.945,39.6],[-0.99,42.2],[-1.035,42.8],[-1.085,41.7],[-1.155,38.9],[-1.245,36.8],[-1.365,35.6],[-1.455,35.4],[-1.47,37.5],
  [-1.47,35],[-1.435,33.3],[-1.365,31.9],[-1.27,31.1],[-1.18,30.6],[-1.105,29.7],[-1.06,28.3],[-1.015,26.4],[-0.945,25],[-0.875,24.3],[-0.805,23.6],[-0.76,22.2],[-0.71,20.3],[-0.665,19.4],[-0.595,19.2],[-0.5,19.2],[-0.385,19],[-0.29,18.1],[-0.245,16],[-0.225,16.7],[-0.22,20.8]];
const p10Green: Pt[] = [[-0.215,23.2],[-0.5,24.3],[-0.56,26.4],[-0.595,33.3],[-0.63,41.7],[-0.665,49.7],[-0.705,53.5],[-0.74,54.2],[-0.76,52.8],[-0.8,50.7],[-0.85,49.3],[-0.92,47.9],[-0.98,46.9],[-1.005,49.3],[-1.04,54.2],[-1.06,54.9],[-1.085,52.8],[-1.11,53.5],[-1.155,56.9],[-1.205,60.4],[-1.235,60.4],[-1.28,56.9],[-1.34,53.5],[-1.41,51.4],[-1.455,52.1],[-1.475,51.4],
  [-1.475,48.9],[-1.46,46.9],[-1.41,45.6],[-1.345,43.6],[-1.3,41.4],[-1.265,37.5],[-1.23,33.3],[-1.19,30],[-1.13,29.2],[-1.06,28.5],[-0.965,27.8],[-0.85,26.4],[-0.735,25],[-0.62,24],[-0.5,23.6],[-0.385,22.9],[-0.27,22.2],[-0.22,22.2]];

const eTicks = [0, -0.4, -0.8, -1.2, -1.6];
const scaleLabel = '10 мкА';
const scaleValue = 10;

const SERIF = '"Liberation Serif", "Times New Roman", "DejaVu Serif", serif';
const TEXT = '#231f20';
const AXIS = '#3a3a3a';
const ARROW = '#404040';
const COLORS = ['#231f20', '#ed1c24', '#2e3192', '#00a651'];
const WIDTHS = [2.4, 3.1, 2.8, 3.4];

const ML = 30;
const MR = 40;
const AXIS_H = 72;

interface Layout {
  x0: number; x16: number; axisY: number; top: number; k: number;
  bar: [number, number];
  fwd: [number, number, number];
  back: [number, number, number];
  up: [number, number, number];
}

interface Panel { layout: Layout; curves: Pt[][]; spike?: Pt[] }

const panels: Panel[] = [
  { layout: { x0: 26, x16: 250.7, axisY: 286.7, top: 0, k: 2.67, bar: [-0.069, 35], fwd: [-0.235, -0.491, 26.5], back: [-0.527, -0.292, 8.9], up: [-1.623, 55.7, 68.8] },
    curves: [p1Black, p1Red, p1Blue, p1Green] },
  { layout: { x0: 349.3, x16: 575, axisY: 288.3, top: 90, k: 2.57, bar: [-0.033, 30.5], fwd: [-0.218, -0.466, 22], back: [-0.56, -0.324, 6.7], up: [-1.584, 33.3, 46.7] },
    curves: [p2Black, p2Red, p2Blue, p2Green] },
  { layout: { x0: 31.7, x16: 261, axisY: 605, top: 365, k: 2.5, bar: [0.031, 38], fwd: [-0.186, -0.435, 24], back: [-0.546, -0.309, 8], up: [-1.598, 41.3, 53.3] },
    curves: [p3Black, p3Red, p3Blue, p3Green], spike: p3BlueSpike },
  { layout: { x0: 332.7, x16: 558.3, axisY: 604.3, top: 420, k: 2.1, bar: [-0.023, 36.2], fwd: [-0.189, -0.442, 27.8], back: [-0.584, -0.336, 9.2], up: [-1.593, 41, 56.8] },
    curves: [p4Black, p4Red, p4Blue, p4Green], spike: p4BlueSpike },
  { layout: { x0: 20.7, x16: 250, axisY: 918.3, top: 670, k: 2.6, bar: [-0.105, 39.7], fwd: [-0.234, -0.484, 22.2], back: [-0.518, -0.293, 5.4], up: [-1.581, 35.9, 48.3] },
    curves: [p5Black, p5Red, p5Blue, p5Green] },
  { layout: { x0: 322.3, x16: 548.3, axisY: 921.7, top: 740, k: 2.3, bar: [-0.026, 31.6], fwd: [-0.255, -0.508, 23.9], back: [-0.515, -0.272, 10.6], up: [-1.522, 32.3, 46.8] },
    curves: [p6Black, p6Red, p6Blue, p6Green] },
  { layout: { x0: 20.7, x16: 250, axisY: 1236.7, top: 980, k: 2.57, bar: [-0.07, 32.2], fwd: [-0.2, -0.449, 23.6], back: [-0.518, -0.29, 11.3], up: [-1.572, 35, 48.2] },
    curves: [p7Black, p7Red, p7Blue, p7Green] },
  { layout: { x0: 314, x16: 539.3, axisY: 1236.7, top: 1040, k: 2.1, bar: [-0.062, 42.1], fwd: [-0.204, -0.457, 28.6], back: [-0.528, -0.291, 11.4], up: [-1.605, 36.9, 53.2] },
    curves: [p8Black, p8Red, p8Blue, p8Green] },
  { layout: { x0: 16, x16: 246, axisY: 1519.3, top: 1290, k: 2.333, bar: [-0.009, 31.8], fwd: [-0.202, -0.45, 23.7], back: [-0.538, -0.301, 9.4], up: [-1.598, 39, 53.7] },
    curves: [p9Black, p9Red, p9Blue, p9Green] },
  { layout: { x0: 311.7, x16: 540.7, axisY: 1520, top: 1330, k: 2.4, bar: [-0.093, 41.7], fwd: [-0.24, -0.489, 27.8], back: [-0.57, -0.303, 14.2], up: [-1.576, 33.3, 47.5] },
    curves: [p10Black, p10Red, p10Blue, p10Green] },
];

// closes the loop back to the start point
const toPts = (arr: Pt[], close = true) => {
  const src = close ? [...arr, arr[0]] : arr;
  return src.map(([e, i]) => ({ e, i }));
};

const fmtE = (v: number) => (v === 0 ? '0' : '\u2212' + Math.abs(v).toFixed(1));

const AxisTick = (props: any) => {
  const { x, y, payload } = props;
  return (
    <g>
      <line x1={x} x2={x} y1={y} y2={y - 7} stroke={AXIS} strokeWidth={1.4} />
      <text x={x} y={y + 29.5} textAnchor="middle" fontSize={27.5} fill={TEXT} fontFamily={SERIF}>
        {fmtE(payload.value)}
      </text>
    </g>
  );
};

const arrowShape = (p: any) => {
  const { x1, y1, x2, y2 } = p;
  const dx = x2 - x1;
  const dy = y2 - y1;
  const len = Math.hypot(dx, dy) || 1;
  const ux = dx / len;
  const uy = dy / len;
  const hl = 11;
  const hw = 3.8;
  const bx = x2 - ux * hl;
  const by = y2 - uy * hl;
  return (
    <g>
      <line x1={x1} y1={y1} x2={bx + ux * 2} y2={by + uy * 2} stroke={ARROW} strokeWidth={1.5} />
      <polygon points={`${x2},${y2} ${bx - uy * hw},${by + ux * hw} ${bx + uy * hw},${by - ux * hw}`} fill={ARROW} />
    </g>
  );
};

const scaleBarShape = (p: any) => {
  const { x1, y1, y2 } = p;
  const yt = Math.min(y1, y2);
  const yb = Math.max(y1, y2);
  return (
    <g>
      <line x1={x1} x2={x1} y1={yt} y2={yb} stroke={TEXT} strokeWidth={1.4} />
      <line x1={x1 - 3.5} x2={x1 + 3.5} y1={yt} y2={yt} stroke={TEXT} strokeWidth={1.4} />
      <line x1={x1 - 3.5} x2={x1 + 3.5} y1={yb} y2={yb} stroke={TEXT} strokeWidth={1.4} />
      <text x={x1 + 3} y={yb - 2} fontSize={26} fill={TEXT} fontFamily={SERIF}>{scaleLabel}</text>
    </g>
  );
};

const CvPanel = ({ panel }: { panel: Panel }) => {
  const { layout, curves, spike } = panel;
  const plotW = layout.x16 - layout.x0;
  const plotH = layout.axisY - layout.top;
  const yMax = plotH / layout.k;
  const title = () => (
    <text x={ML + plotW / 2} y={plotH + 59} textAnchor="middle" fontSize={27} fill={TEXT} fontFamily={SERIF}>
      <tspan fontStyle="italic">E</tspan>, В отн. Ag/AgCl
    </text>
  );
  const [bE, bI] = layout.bar;
  const [fE1, fE2, fI] = layout.fwd;
  const [rE1, rE2, rI] = layout.back;
  const [uE, uI1, uI2] = layout.up;
  return (
    <div style={{ position: 'absolute', left: layout.x0 - ML, top: layout.top }}>
      <LineChart width={plotW + ML + MR} height={plotH + AXIS_H} margin={{ top: 0, right: MR, bottom: 0, left: ML }}>
        <XAxis
          dataKey="e"
          type="number"
          domain={[-1.6, 0]}
          reversed
          allowDataOverflow
          ticks={eTicks}
          interval={0}
          height={AXIS_H}
          tickSize={0}
          tickMargin={0}
          tickLine={false}
          axisLine={{ stroke: AXIS, strokeWidth: 1.4 }}
          tick={AxisTick}
          label={title}
        />
        <YAxis hide type="number" domain={[0, yMax]} allowDataOverflow />
        {curves.map((c, idx) => (
          <Line
            key={idx}
            data={toPts(c)}
            dataKey="i"
            type="linear"
            stroke={COLORS[idx]}
            strokeWidth={WIDTHS[idx]}
            strokeLinejoin="round"
            strokeLinecap="round"
            dot={false}
            activeDot={false}
            isAnimationActive={false}
          />
        ))}
        {spike && (
          <Line
            data={toPts(spike, false)}
            dataKey="i"
            type="linear"
            stroke={COLORS[2]}
            strokeWidth={1.2}
            strokeDasharray="3 2"
            dot={false}
            activeDot={false}
            isAnimationActive={false}
          />
        )}
        <ReferenceLine ifOverflow="visible" segment={[{ x: bE, y: bI }, { x: bE, y: bI + scaleValue }]} shape={scaleBarShape} />
        <ReferenceLine ifOverflow="visible" segment={[{ x: fE1, y: fI }, { x: fE2, y: fI }]} shape={arrowShape} />
        <ReferenceLine ifOverflow="visible" segment={[{ x: rE1, y: rI }, { x: rE2, y: rI }]} shape={arrowShape} />
        <ReferenceLine ifOverflow="visible" segment={[{ x: uE, y: uI1 }, { x: uE, y: uI2 }]} shape={arrowShape} />
      </LineChart>
    </div>
  );
};

export default function App() {
  return (
    <div style={{ position: 'absolute', left: 0, top: 0, width: 601, height: 1584, overflow: 'hidden', background: '#fff' }}>
      {panels.map((p, i) => (
        <CvPanel key={i} panel={p} />
      ))}
    </div>
  );
}
